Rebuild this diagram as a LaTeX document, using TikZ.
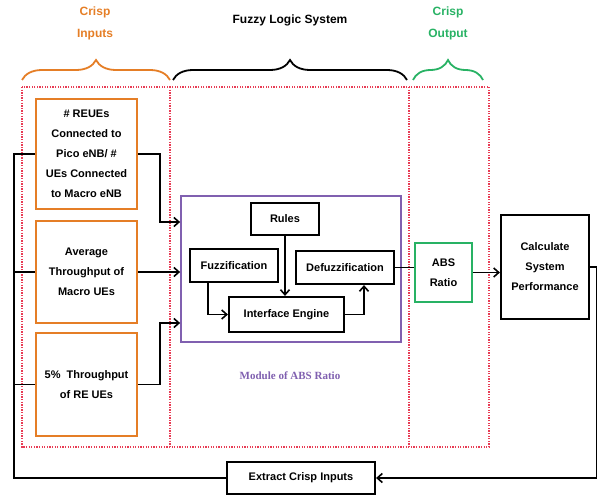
\documentclass[tikz,border=0pt]{standalone}
\usepackage{fontspec}
\setmainfont{Liberation Sans}
\newfontfamily\modfont{Liberation Serif}
\usetikzlibrary{decorations.pathreplacing,arrows.meta}

\definecolor{crispor}{RGB}{229,126,38}
\definecolor{crispgr}{RGB}{40,178,100}
\definecolor{modpur}{RGB}{128,96,176}
\definecolor{dotred}{RGB}{232,60,85}

\tikzset{
    boxtext/.style = {font = \fontsize{11}{20}\selectfont\bfseries, align = center, inner sep = 0pt},
    inbox/.style = {boxtext, draw = crispor, line width = 2.4pt, minimum width = 101pt},
    blkbox/.style = {boxtext, draw = black, line width = 2.2pt},
    flow/.style = {line width = 1.6pt, -{Straight Barb[length = 5pt, width = 9pt]}},
    wire/.style = {line width = 1.6pt},
    curly/.style = {line width = 1.8pt, decorate, decoration = {brace, amplitude = 20pt}},
    heading/.style = {font = \fontsize{12}{22}\selectfont\bfseries, align = center},
    zone/.style = {draw = dotred, line width = 1.3pt, dash pattern = on 1.3pt off 1.3pt}
}

\begin{document}
\begin{tikzpicture}[x = 1pt, y = -1pt]
    \useasboundingbox (0, 0) rectangle (597, 495);

    % headings and braces
    \node [heading, text = crispor] (hin) at (95, 23) {Crisp\\Inputs};
    \node [heading] (hfls) at (290, 20) {Fuzzy Logic System};
    \node [heading, text = crispgr] (hout) at (448, 23) {Crisp\\Output};
    \draw [curly, crispor] (22, 80) -- (170, 80);
    \draw [curly, black] (173, 80) -- (407, 80);
    \draw [curly, crispgr] (413, 80) -- (483, 80);

    % dotted zones
    \draw [zone] (22, 87) rectangle (489, 447);
    \draw [zone] (170, 87) -- (170, 447);
    \draw [zone] (409, 87) -- (409, 447);

    % crisp inputs
    \node [inbox, minimum height = 110pt] (in1) at (86.5, 154) {\# REUEs\\Connected to\\Pico eNB/ \#\\UEs Connected\\to Macro eNB};
    \node [inbox, minimum height = 102pt] (in2) at (86.5, 272) {Average\\Throughput of\\Macro UEs};
    \node [inbox, minimum height = 103pt] (in3) at (86.5, 384.5) {5\%\ \ Throughput\\of RE UEs};

    % module of ABS ratio
    \node [draw = modpur, line width = 1.8pt, minimum width = 220pt, minimum height = 146pt] (mod) at (291, 269) {};
    \node [font = \modfont\fontsize{11}{13}\selectfont\bfseries, text = modpur] (modlbl) at (290, 376) {Module of ABS Ratio};
    \node [blkbox, minimum width = 68pt, minimum height = 32pt] (rules) at (285, 219) {Rules};
    \node [blkbox, minimum width = 88pt, minimum height = 33pt] (fuzz) at (234, 265.5) {Fuzzification};
    \node [blkbox, minimum width = 98pt, minimum height = 33pt] (defuzz) at (345, 267.5) {Defuzzification};
    \node [blkbox, minimum width = 115pt, minimum height = 35pt] (ie) at (286.5, 314.5) {Interface Engine};

    % output side
    \node [boxtext, draw = crispgr, line width = 2.2pt, minimum width = 57pt, minimum height = 59pt] (abs) at (443.5, 272.5) {ABS\\Ratio};
    \node [blkbox, minimum width = 88pt, minimum height = 104pt] (calc) at (545, 267) {Calculate\\System\\Performance};
    \node [blkbox, minimum width = 148pt, minimum height = 32pt] (ext) at (301, 478) {Extract Crisp Inputs};

    % connectors
    \draw [flow] (in1.east) -- ++(22, 0) |- ([yshift = 47pt]mod.west);
    \draw [flow] (in2.east) -- (in2.east -| mod.west);
    \draw [flow] (in3.east) -- ++(22, 0) |- ([yshift = -54pt]mod.west);
    \draw [flow] (rules.south) -- (rules.south |- ie.north);
    \draw [flow] ([xshift = -26pt]fuzz.south) |- (ie.west);
    \draw [flow] (ie.east) -| ([xshift = 19pt]defuzz.south);
    \draw [wire] (defuzz.east) -- (defuzz.east -| abs.west);
    \draw [flow] (abs.east) -- (abs.east -| calc.west);
    \draw [flow] (calc.east) -- ++(7, 0) |- (ext.east);

    \coordinate (bus) at (14, 154);
    \draw [wire] (ext.west) -| (bus) -- (in1.west);
    \draw [wire] (in2.west) -- (in2.west -| bus);
    \draw [wire] (in3.west) -- (in3.west -| bus);
\end{tikzpicture}
\end{document}
